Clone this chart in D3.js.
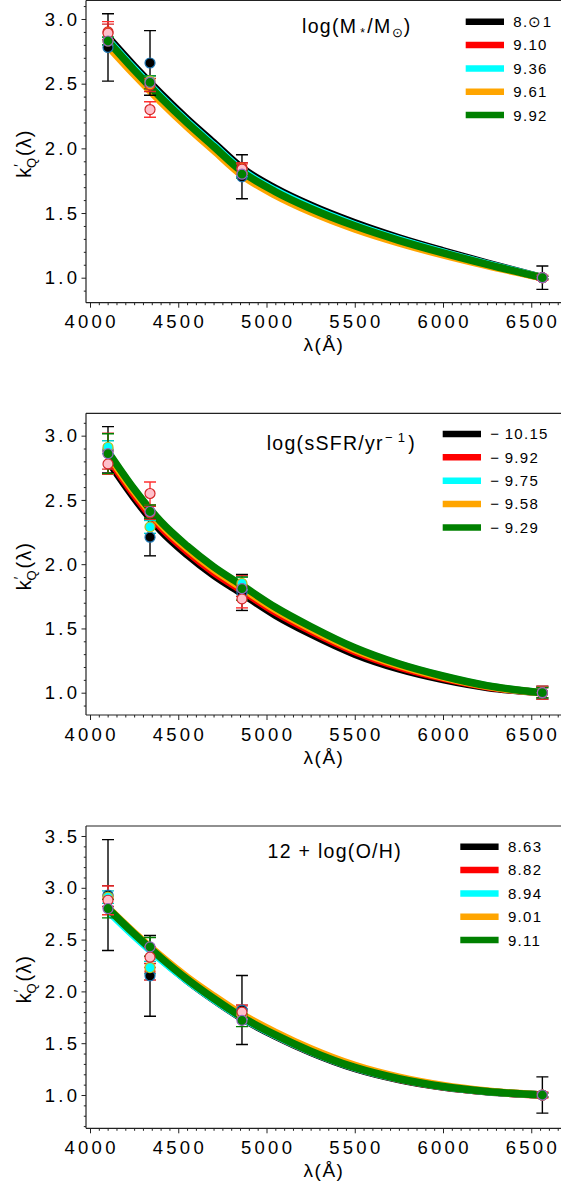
<!DOCTYPE html>
<html><head><meta charset="utf-8">
<script src="https://cdn.jsdelivr.net/npm/d3@7"></script>
<style>
body{margin:0;background:#fff}
svg{display:block}
text{font-family:"Liberation Sans",Arial,Helvetica,sans-serif;fill:#000}
</style>
</head><body>
<svg id="c" width="561" height="1190"></svg>
<script>
// ---------- DATA ----------
const curveWaves = [4102, 4250, 4400, 4550, 4700, 4861, 5050, 5250, 5500, 5750, 6000, 6250, 6563];
const pointWaves = [4102, 4340, 4861, 6563];

const lineColors  = ["#000000", "#ff0000", "#00ffff", "#ffa500", "#008000"];
const markerFills = ["#000000", "#ffc0cb", "#00ffff", "#ffa500", "#008000"];
const markerEdges = ["#1f77b4", "#d62728", "#bcbd22", "#d62728", "#9467bd"];
const errorColors = ["#000000", "#ff3030", "#00cccc", "#d62728", "#008000"];
const markerOrder = [3, 0, 2, 1, 4];

// panel 1: stellar mass
const massLabels = ["8.\u22991", "9.10", "9.36", "9.61", "9.92"];
const massBlack  = [2.86, 2.636, 2.424, 2.227, 2.045, 1.848, 1.692, 1.561, 1.425, 1.309, 1.208, 1.113, 1.0];
const massRed    = [2.835, 2.61, 2.398, 2.201, 2.019, 1.824, 1.669, 1.539, 1.405, 1.292, 1.195, 1.105, 1.0];
const massCyan   = [2.84, 2.616, 2.404, 2.207, 2.025, 1.83, 1.675, 1.545, 1.41, 1.297, 1.198, 1.107, 1.0];
const massOrange = [2.79, 2.571, 2.362, 2.167, 1.985, 1.792, 1.638, 1.509, 1.377, 1.269, 1.176, 1.093, 1.0];
const massGreen  = [2.83, 2.606, 2.394, 2.197, 2.015, 1.82, 1.665, 1.535, 1.401, 1.289, 1.192, 1.103, 1.0];
const massPoints = [
  [2.78, 2.66, 1.78, 1.00],
  [2.89, 2.30, 1.84, 1.00],
  [2.83, 2.52, 1.81, 1.00],
  [2.90, 2.49, 1.85, 1.00],
  [2.83, 2.51, 1.80, 1.00]];
const massErrors = [
  [0.26, 0.25, 0.17, 0.09],
  [0.09, 0.06, 0.04, 0.02],
  [0.03, 0.04, 0.03, 0.01],
  [0.06, 0.05, 0.04, 0.01],
  [0.03, 0.05, 0.03, 0.01]];

// panel 2: sSFR
const ssfrLabels = ["\u2212\u200910.15", "\u2212\u20099.92", "\u2212\u20099.75", "\u2212\u20099.58", "\u2212\u20099.29"];
const ssfrBlack  = [2.805, 2.515, 2.263, 2.074, 1.914, 1.771, 1.603, 1.457, 1.30, 1.185, 1.102, 1.041, 1.0];
const ssfrRed    = [2.83, 2.54, 2.289, 2.099, 1.938, 1.795, 1.627, 1.48, 1.32, 1.201, 1.113, 1.046, 1.0];
const ssfrCyan   = [2.867, 2.577, 2.325, 2.134, 1.972, 1.827, 1.658, 1.509, 1.345, 1.221, 1.127, 1.053, 1.0];
const ssfrOrange = [2.855, 2.565, 2.313, 2.122, 1.96, 1.815, 1.647, 1.499, 1.336, 1.214, 1.121, 1.05, 1.0];
const ssfrGreen  = [2.875, 2.585, 2.333, 2.142, 1.98, 1.835, 1.665, 1.515, 1.35, 1.225, 1.13, 1.055, 1.0];
const ssfrPoints = [
  [2.89, 2.21, 1.78, 1.00],
  [2.78, 2.55, 1.73, 1.00],
  [2.91, 2.29, 1.85, 1.00],
  [2.88, 2.40, 1.83, 1.00],
  [2.86, 2.41, 1.81, 1.00]];
const ssfrErrors = [
  [0.18, 0.145, 0.14, 0.05],
  [0.08, 0.09, 0.07, 0.05],
  [0.05, 0.05, 0.05, 0.04],
  [0.14, 0.05, 0.08, 0.04],
  [0.155, 0.05, 0.09, 0.04]];

// panel 3: metallicity
const ohLabels = ["8.63", "8.82", "8.94", "9.01", "9.11"];
const ohBlack  = [2.79, 2.544, 2.315, 2.105, 1.92, 1.74, 1.568, 1.412, 1.256, 1.149, 1.076, 1.031, 1.0];
const ohRed    = [2.796, 2.552, 2.323, 2.113, 1.928, 1.748, 1.576, 1.419, 1.263, 1.154, 1.08, 1.033, 1.0];
const ohCyan   = [2.775, 2.534, 2.309, 2.105, 1.924, 1.746, 1.575, 1.419, 1.263, 1.155, 1.081, 1.034, 1.0];
const ohOrange = [2.805, 2.566, 2.342, 2.137, 1.957, 1.777, 1.605, 1.447, 1.286, 1.172, 1.092, 1.039, 1.0];
const ohGreen  = [2.80, 2.556, 2.327, 2.117, 1.932, 1.752, 1.58, 1.423, 1.266, 1.157, 1.082, 1.034, 1.0];
const ohPoints = [
  [2.93, 2.15, 1.82, 1.00],
  [2.88, 2.33, 1.80, 1.00],
  [2.91, 2.23, 1.78, 1.00],
  [2.92, 2.19, 1.82, 1.00],
  [2.80, 2.43, 1.72, 1.00]];
const ohErrors = [
  [0.535, 0.39, 0.333, 0.175],
  [0.14, 0.10, 0.06, 0.03],
  [0.06, 0.06, 0.05, 0.02],
  [0.10, 0.08, 0.05, 0.02],
  [0.09, 0.09, 0.06, 0.02]];

const xTicks = [4000, 4500, 5000, 5500, 6000, 6500];

// ---------- LAYOUT ----------
const svg = d3.select("#c");
const left = 86, rightEdge = 566;
const x = d3.scaleLinear().domain([4000, 6500]).range([90, 531.25]);

const panels = [
  {top: 0.5, bottom: 302.7, dom: [0.8067, 3.143], yMajor: [1.0, 1.5, 2.0, 2.5, 3.0],
   curves: [massBlack, massRed, massCyan, massOrange, massGreen], pts: massPoints, errs: massErrors,
   labels: massLabels, legX: 465.7, legY: 21.7, title: "mass", tX: 302, tY: 32.5},
  {top: 413.3, bottom: 715, dom: [0.8265, 3.174], yMajor: [1.0, 1.5, 2.0, 2.5, 3.0],
   curves: [ssfrBlack, ssfrRed, ssfrCyan, ssfrOrange, ssfrGreen], pts: ssfrPoints, errs: ssfrErrors,
   labels: ssfrLabels, legX: 442.7, legY: 434, title: "ssfr", tX: 266.7, tY: 450},
  {top: 826, bottom: 1128.3, dom: [0.6786, 3.5965], yMajor: [1.0, 1.5, 2.0, 2.5, 3.0, 3.5],
   curves: [ohBlack, ohRed, ohCyan, ohOrange, ohGreen], pts: ohPoints, errs: ohErrors,
   labels: ohLabels, legX: 460.3, legY: 846.7, title: "oh", tX: 267.5, tY: 858}
];

panels.forEach((p, pi) => {
  const y = d3.scaleLinear().domain(p.dom).range([p.bottom, p.top]);
  const g = svg.append("g");

  const cid = "clip" + pi;
  svg.append("clipPath").attr("id", cid).append("rect")
    .attr("x", left).attr("y", p.top).attr("width", rightEdge - left).attr("height", p.bottom - p.top);

  // curves
  const line = d3.line().x(d => x(d[0])).y(d => y(d[1])).curve(d3.curveMonotoneX);
  const cg = g.append("g").attr("clip-path", `url(#${cid})`);
  p.curves.forEach((vals, si) => {
    cg.append("path").datum(curveWaves.map((w, i) => [w, vals[i]]))
      .attr("d", line).attr("fill", "none")
      .attr("stroke", lineColors[si]).attr("stroke-width", 7.5);
  });

  // error bars
  p.pts.forEach((vals, si) => {
    const sg = cg.append("g");
    vals.forEach((v, i) => {
      const e = p.errs[si][i];
      const cx = x(pointWaves[i]);
      const ec = errorColors[si];
      sg.append("line").attr("x1", cx).attr("x2", cx).attr("y1", y(v - e)).attr("y2", y(v + e))
        .attr("stroke", ec).attr("stroke-width", 1.4);
      [v - e, v + e].forEach(yy => {
        sg.append("line").attr("x1", cx - 6).attr("x2", cx + 6).attr("y1", y(yy)).attr("y2", y(yy))
          .attr("stroke", ec).attr("stroke-width", 1.4);
      });
    });
  });
  // markers
  markerOrder.forEach(si => {
    p.pts[si].forEach((v, i) => {
      cg.append("circle").attr("cx", x(pointWaves[i])).attr("cy", y(v)).attr("r", 5)
        .attr("fill", markerFills[si]).attr("stroke", markerEdges[si]).attr("stroke-width", 1.2);
    });
  });

  // frame
  const fr = g.append("g").attr("stroke", "#222").attr("stroke-width", 1.2);
  fr.append("line").attr("x1", left).attr("x2", 561).attr("y1", p.top).attr("y2", p.top);
  fr.append("line").attr("x1", left).attr("x2", left).attr("y1", p.top).attr("y2", p.bottom);
  fr.append("line").attr("x1", left).attr("x2", 561).attr("y1", p.bottom).attr("y2", p.bottom);

  // x axis ticks
  const xMinor = d3.range(4050, 6700, 50).filter(v => v % 500 !== 0);
  const xa = g.append("g").attr("transform", `translate(0,${p.bottom})`);
  xa.call(d3.axisBottom(x).tickValues(xTicks).tickSize(5).tickFormat(""));
  xa.select(".domain").remove();
  xa.selectAll("line").attr("stroke", "#222").attr("stroke-width", 1);
  const xm = g.append("g").attr("transform", `translate(0,${p.bottom})`);
  xm.call(d3.axisBottom(x).tickValues(xMinor).tickSize(2.5).tickFormat(""));
  xm.select(".domain").remove();
  xm.selectAll("line").attr("stroke", "#222").attr("stroke-width", 1);
  g.selectAll(null).data(xTicks).enter().append("text")
    .attr("x", d => x(d) + 1.6).attr("y", p.bottom + 25.5)
    .attr("text-anchor", "middle").attr("font-size", 18.5).attr("letter-spacing", 3.3)
    .text(d => d);

  // y axis ticks
  const yMinor = d3.range(Math.ceil(p.dom[0] * 10) / 10, p.dom[1], 0.1)
    .map(v => Math.round(v * 10) / 10).filter(v => Math.abs(v * 2 - Math.round(v * 2)) > 1e-6);
  const ya = g.append("g").attr("transform", `translate(${left},0)`);
  ya.call(d3.axisLeft(y).tickValues(p.yMajor).tickSize(4.5).tickFormat(""));
  ya.select(".domain").remove();
  ya.selectAll("line").attr("stroke", "#222").attr("stroke-width", 1);
  const ym = g.append("g").attr("transform", `translate(${left},0)`);
  ym.call(d3.axisLeft(y).tickValues(yMinor).tickSize(2.2).tickFormat(""));
  ym.select(".domain").remove();
  ym.selectAll("line").attr("stroke", "#222").attr("stroke-width", 1);
  g.selectAll(null).data(p.yMajor).enter().append("text")
    .attr("x", 80.3).attr("y", d => y(d)).attr("dy", "0.36em")
    .attr("text-anchor", "end").attr("font-size", 18.5).attr("letter-spacing", 3.3)
    .text(d => d3.format(".1f")(d));

  // x label
  g.append("text").attr("x", 324).attr("y", p.bottom + 48.5).attr("text-anchor", "middle")
    .attr("font-size", 19).attr("letter-spacing", 1.5).text("\u03bb(\u00c5)");

  // y label
  const yl = g.append("text")
    .attr("transform", `translate(31,${(p.top + p.bottom) / 2 + 2}) rotate(-90)`)
    .attr("text-anchor", "middle").attr("font-size", 20).attr("letter-spacing", 1);
  yl.append("tspan").text("k");
  yl.append("tspan").attr("font-size", 14).attr("dy", -7).attr("dx", 0).text("\u2032");
  yl.append("tspan").attr("font-size", 13).attr("dy", 12).attr("dx", -5).text("Q");
  yl.append("tspan").attr("dy", -5).attr("dx", 1).text("(\u03bb)");

  // title
  const t = g.append("text").attr("x", p.tX).attr("y", p.tY)
    .attr("font-size", 19.5).attr("letter-spacing", 1.3);
  if (p.title === "mass") {
    t.append("tspan").text("log(M");
    t.append("tspan").attr("font-size", 12).attr("dx", 3).attr("dy", 4).text("*");
    t.append("tspan").attr("dx", 1).attr("dy", -4).text("/M");
    t.append("tspan").attr("font-size", 13).attr("dy", 4).text("\u2299");
    t.append("tspan").attr("dy", -4).text(")");
  } else if (p.title === "ssfr") {
    t.append("tspan").text("log(sSFR/yr");
    t.append("tspan").attr("font-size", 13).attr("dy", -8).attr("dx", 1).text("\u2212\u20091");
    t.append("tspan").attr("dy", 8).attr("dx", 2).text(")");
  } else {
    t.text("12 + log(O/H)");
  }

  // legend
  p.labels.forEach((lab, si) => {
    const ly = p.legY + si * 23.35;
    g.append("line").attr("x1", p.legX).attr("x2", p.legX + 38.3).attr("y1", ly).attr("y2", ly)
      .attr("stroke", lineColors[si]).attr("stroke-width", 6.5);
    g.append("text").attr("x", p.legX + 47.6).attr("y", ly).attr("dy", "0.36em")
      .attr("font-size", 15).attr("letter-spacing", 1.3).text(lab);
  });
});
</script>
</body></html>
